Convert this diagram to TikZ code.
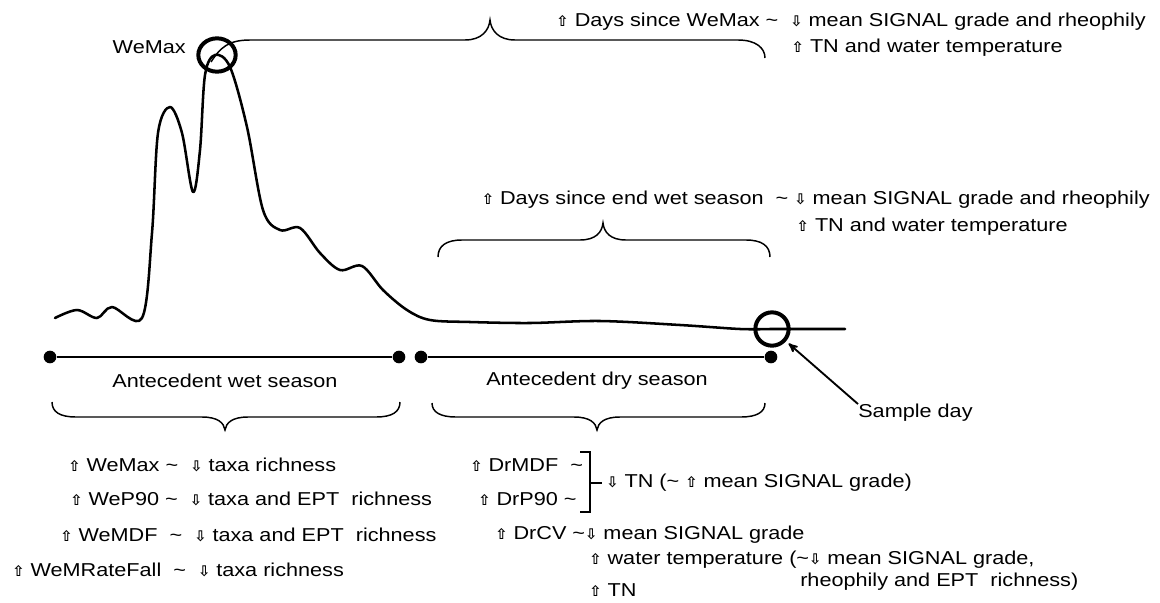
\documentclass[tikz,border=0pt]{standalone}
\usepackage{fontspec}
\setmainfont{Liberation Sans}[FakeStretch=1.16]
\newfontfamily\arrowfont{DejaVu Sans Bold}
\usepackage{tikz}
\usetikzlibrary{arrows,shapes}
\newcommand{\upar}{{\arrowfont\fontsize{11}{11}\selectfont ⇧}}
\newcommand{\dnar}{{\arrowfont\fontsize{11}{11}\selectfont ⇩}}
\newcommand{\tld}{\textasciitilde}
\tikzstyle{flow} = [line width=1.9pt, line join=round, line cap=round]
\tikzstyle{axis} = [draw, line width=1.1pt]
\tikzstyle{brace} = [draw, line width=1.1pt]
\tikzstyle{ring} = [draw, line width=3pt, inner sep=0pt]
\tikzstyle{dot} = [circle, fill=black, minimum size=9.5pt, inner sep=0pt]
\tikzstyle{lbl} = [font=\fontsize{14}{17}\selectfont, inner sep=0pt]
\tikzstyle{arr} = [draw, line width=1.4pt, -stealth']

\begin{document}
\begin{tikzpicture}[x=0.75pt, y=-0.75pt]
    \useasboundingbox (0,0) rectangle (1160,603);

    % hydrograph
    \draw[flow] plot[smooth, tension=0.55] coordinates {(55,318) (77,310) (97,318) (112,307)
        (142,318) (152,233) (158,133) (170,107) (182,133) (193,192) (200,150) (205,75)
        (215,55) (230,67) (247,127) (263,210) (280,230) (300,228) (320,253) (340,270)
        (362,266) (383,290) (407,310) (430,320) (470,322) (530,323) (600,321) (680,325)
        (740,329) (770,329)} -- (845,329);

    \node[ring, ellipse, minimum width=28pt, minimum height=25pt] (wemax) at (217,55) {};
    \node[ring, circle, minimum size=25pt, outer sep=4pt] (sample) at (772,329) {};
    \node[lbl, anchor=east] (wemaxlbl) at (186,47) {WeMax};

    % time line
    \foreach \pos/\name in {{(50,357)/w0}, {(399,357)/w1}, {(421,357)/d0}, {(771,357)/d1}}
        \node[dot] (\name) at \pos {};
    \path[axis] (w0) -- (w1);
    \path[axis] (d0) -- (d1);
    \node[lbl] (wetlbl) at (225,381) {Antecedent wet season};
    \node[lbl] (drylbl) at (597,381) {Antecedent dry season};

    \node[lbl, anchor=west] (samplbl) at (858,413) {Sample day};
    \path[arr] (samplbl.north west) -- (sample);

    % braces
    \path[brace] (211,62) .. controls (220,48) and (228,40) .. (250,40) -- (465,40)
        .. controls (482,40) and (489,30) .. (490,20) .. controls (491,30) and (498,40) .. (515,40)
        -- (738,40) .. controls (756,40) and (765,48) .. (765,58);
    \path[brace] (438,257) .. controls (438,246) and (446,240) .. (462,240) -- (580,240)
        .. controls (596,240) and (602,232) .. (603,223) .. controls (604,232) and (610,240) .. (626,240)
        -- (746,240) .. controls (762,240) and (770,246) .. (770,257);
    \path[brace] (52,402) .. controls (52,412) and (60,417) .. (76,417) -- (202,417)
        .. controls (218,417) and (224,423) .. (225,430) .. controls (226,423) and (232,417) .. (248,417)
        -- (376,417) .. controls (392,417) and (400,412) .. (400,402);
    \path[brace] (432,403) .. controls (432,412) and (440,417) .. (456,417) -- (574,417)
        .. controls (590,417) and (596,423) .. (597,430) .. controls (598,423) and (604,417) .. (620,417)
        -- (741,417) .. controls (757,417) and (765,412) .. (765,403);

    % responses
    \node[lbl, anchor=east] (wmtxt) at (1146,22) {\upar\ Days since WeMax \tld\ \ \dnar\ mean SIGNAL grade and rheophily};
    \node[lbl, anchor=east] (wmtxtb) at (1063,48) {\upar\ TN and water temperature};
    \node[lbl, anchor=east] (dstxt) at (1150,200) {\upar\ Days since end wet season \ \tld\ \dnar\ mean SIGNAL grade and rheophily};
    \node[lbl, anchor=east] (dstxtb) at (1068,227) {\upar\ TN and water temperature};

    \foreach \pos/\name/\val in {{(68,465)/wea/{WeMax \tld\ \ \dnar\ taxa richness}},
        {(70,499)/web/{WeP90 \tld\ \ \dnar\ taxa and EPT\ \ richness}},
        {(60,535)/wec/{WeMDF \ \tld\ \ \dnar\ taxa and EPT\ \ richness}},
        {(12,570)/wed/{WeMRateFall \ \tld\ \ \dnar\ taxa richness}}}
        \node[lbl, anchor=west] (\name) at \pos {\upar\ \val};

    \node[lbl, anchor=west] (dra) at (470,465) {\upar\ DrMDF \ \tld};
    \node[lbl, anchor=west] (drb) at (478,499) {\upar\ DrP90 \tld};
    \path[axis] (580,452) -- (590,452) -- (590,512) -- (580,512);
    \path[axis] (590,483) -- (602,483);
    \node[lbl, anchor=west] (drtn) at (606,483) {\dnar\ TN (\tld\ \upar\ mean SIGNAL grade)};
    \node[lbl, anchor=west] (drc) at (495,535) {\upar\ DrCV \tld\dnar\ mean SIGNAL grade};
    \node[lbl, anchor=west] (drcb) at (589,560) {\upar\ water temperature (\tld\dnar\ mean SIGNAL grade,};
    \node[lbl, anchor=west] (drcc) at (589,590) {\upar\ TN};
    \node[lbl, anchor=west] (drcd) at (800,582) {rheophily and EPT\ \ richness)};
\end{tikzpicture}
\end{document}
